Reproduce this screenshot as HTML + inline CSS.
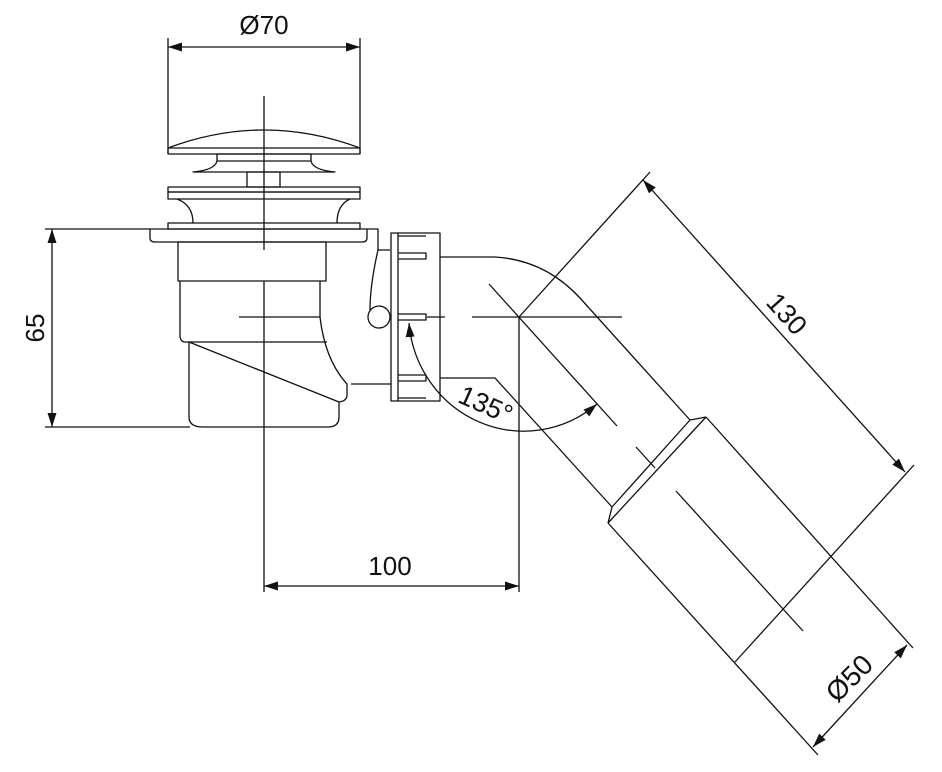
<!DOCTYPE html>
<html><head><meta charset="utf-8"><style>
html,body{margin:0;padding:0;background:#fff}
svg{display:block}
text{font-family:"Liberation Sans",sans-serif;fill:#111}
</style></head><body>
<svg width="942" height="772" viewBox="0 0 942 772" xmlns="http://www.w3.org/2000/svg">
<defs>
<marker id="a" viewBox="0 0 10 10" refX="10" refY="5" markerWidth="14" markerHeight="14" markerUnits="userSpaceOnUse" orient="auto-start-reverse"><path d="M0,1.8 L10,5 L0,8.2 z" fill="#111"/></marker>
</defs>
<g fill="none" stroke="#111" stroke-width="1.3" stroke-linejoin="round">
<line x1="168" y1="38" x2="168" y2="153"/><line x1="360" y1="38" x2="360" y2="153"/>
<line x1="168" y1="47" x2="360" y2="47" marker-start="url(#a)" marker-end="url(#a)"/>
<path d="M168,148 Q264,112 360,148"/>
<rect x="168" y="148" width="192" height="6"/>
<path d="M217,154 L311,154 L311,161 L217,161 z"/>
<path d="M217,161 Q215,170 193,172 L335,172 Q313,170 311,161"/>
<rect x="247" y="172" width="33" height="15"/>
<rect x="168" y="187" width="192" height="5"/><rect x="168" y="192" width="192" height="7"/>
<path d="M177,199 Q193,205 193,223 M350,199 Q337,205 337,223"/>
<rect x="168" y="223" width="192" height="6"/>
<path d="M150,229 L367,229 L367,238 Q367,242 362,242 L155,242 Q150,242 150,238 z"/>
<path d="M367,229 L378,229 L378,250 L390,250"/>
<path d="M378,250 Q370,285 370,310"/>
<circle cx="379" cy="317" r="11"/>
<rect x="178" y="242" width="148" height="39"/>
<path d="M180,281 L180,337 Q181,342 185,342 L327,342"/>
<path d="M320,281 L320,317 Q325,360 347,384 L347,395 Q347,401 339,402 L339,417 Q339,427 328,427 L203,427 Q189,427 189,417 L189,342"/>
<line x1="189" y1="342" x2="339" y2="402"/>
<line x1="351" y1="384" x2="391" y2="384"/>
<rect x="391" y="233" width="49" height="168"/>
<line x1="398" y1="233" x2="398" y2="401"/>
<path d="M398,236 L426,236 M398,253 L426,253 L426,259 L398,259 M398,314 L426,314 L426,320 L398,320 M398,375 L426,375 L426,381 L398,381 M398,398 L426,398"/>
<path d="M440,257 L495,257 Q545,260 580,298 L690,420"/>
<path d="M440,378 L495,378 L612,507"/>
<path d="M690,420 L706,417 M612,507 L608,523 M690,420 L612,507 M706,417 L608,523"/>
<line x1="706" y1="417" x2="913" y2="648"/>
<line x1="608" y1="523" x2="818" y2="755"/>
<line x1="264" y1="96" x2="264" y2="250"/><line x1="264" y1="281" x2="264" y2="592"/>
<line x1="239" y1="317" x2="320" y2="317"/>
<line x1="427" y1="317" x2="445" y2="317"/>
<line x1="472" y1="317" x2="622" y2="317"/>
<line x1="489" y1="284" x2="617" y2="426"/>
<line x1="636" y1="447" x2="655" y2="468"/>
<line x1="676" y1="491" x2="803" y2="631"/>
<line x1="519" y1="317" x2="519" y2="592"/>
<line x1="264" y1="586" x2="519" y2="586" marker-start="url(#a)" marker-end="url(#a)"/>
<line x1="45" y1="229" x2="150" y2="229"/><line x1="45" y1="427" x2="190" y2="427"/>
<line x1="52" y1="229" x2="52" y2="427" marker-start="url(#a)" marker-end="url(#a)"/>
<line x1="519" y1="317" x2="650" y2="172"/>
<line x1="735" y1="662" x2="914" y2="465"/>
<line x1="643" y1="180" x2="905" y2="472" marker-start="url(#a)" marker-end="url(#a)"/>
<line x1="813" y1="747" x2="907" y2="645" marker-start="url(#a)" marker-end="url(#a)"/>
<path d="M409,323 A115,118 0 0 0 597,404" marker-start="url(#a)" marker-end="url(#a)"/>
</g>
<text x="264" y="34" font-size="26" text-anchor="middle">Ø70</text>
<text x="390" y="575" font-size="26" text-anchor="middle">100</text>
<text transform="translate(44,328) rotate(-90)" font-size="26" text-anchor="middle">65</text>
<text transform="translate(780,320) rotate(48)" font-size="27" text-anchor="middle">130</text>
<text transform="translate(856,685) rotate(-45)" font-size="28" text-anchor="middle">Ø50</text>
<text transform="translate(482,413) rotate(24)" font-size="27" text-anchor="middle">135°</text>
</svg>
</body></html>
